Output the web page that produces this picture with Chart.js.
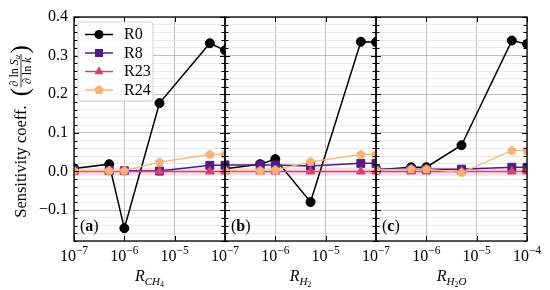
<!DOCTYPE html>
<html>
<head>
<meta charset="utf-8">
<script src="https://cdn.jsdelivr.net/npm/chart.js@4"></script>
<style>
  html, body { margin: 0; padding: 0; background: #fff; }
  canvas { display: block; }
</style>
</head>
<body>
<canvas id="chart" width="550" height="290"></canvas>
<script>
// perturbation ratios used in every panel
var ratios = [1e-7, 5e-7, 1e-6, 5e-6, 5e-5, 1e-4];
var xTicks = [1e-7, 1e-6, 1e-5, 1e-4];
var yMin = -0.18, yMax = 0.4;

// (a) R_CH4
var r0CH4  = [0.008, 0.019, -0.147, 0.177, 0.332, 0.314];
var r8CH4  = [0.002, 0.002, 0.002, 0.001, 0.016, 0.016];
var r23CH4 = [0.0, 0.0, 0.0, 0.0, 0.0, 0.0];
var r24CH4 = [0.002, 0.002, 0.002, 0.024, 0.044, 0.044];

// (b) R_H2
var r0H2  = [0.007, 0.019, 0.032, -0.079, 0.336, 0.335];
var r8H2  = [0.017, 0.017, 0.017, 0.014, 0.021, 0.021];
var r23H2 = [0.0, 0.0, 0.0, 0.0, 0.0, 0.0];
var r24H2 = [0.002, 0.002, 0.004, 0.025, 0.044, 0.044];

// (c) R_H2O
var r0H2O  = [0.004, 0.011, 0.011, 0.068, 0.339, 0.330];
var r8H2O  = [0.006, 0.006, 0.006, 0.006, 0.011, 0.011];
var r23H2O = [0.0, 0.0, 0.0, 0.0, 0.0, 0.0];
var r24H2O = [0.004, 0.006, 0.006, -0.003, 0.054, 0.054];

var seriesNames = ['R0', 'R8', 'R23', 'R24'];
var panelIds = ['xa', 'xb', 'xc'];
var panelTags = ['a', 'b', 'c'];
var panelSeries = [
  [r0CH4, r8CH4, r23CH4, r24CH4],
  [r0H2, r8H2, r23H2, r24H2],
  [r0H2O, r8H2O, r23H2O, r24H2O]
];

var SERIF = "'Liberation Serif', 'DejaVu Serif', serif";
var colors = ['#000000', '#521a86', '#d6436c', '#f4ba84'];
var markColors = ['#000000', '#521a86', '#d6436c', '#f7b07a'];
var markers = ['circle', 'rect', 'triangle', 'pentagon'];

function pentagon(color, r) {
  var cv = document.createElement('canvas');
  var s = Math.ceil(r * 2 + 2);
  cv.width = s; cv.height = s;
  var g = cv.getContext('2d');
  g.fillStyle = color;
  g.beginPath();
  for (var k = 0; k < 5; k++) {
    var a = -Math.PI / 2 + k * 2 * Math.PI / 5;
    g.lineTo(s / 2 + r * Math.cos(a), s / 2 + r * Math.sin(a));
  }
  g.closePath();
  g.fill();
  return cv;
}
var pentImg = pentagon(markColors[3], 5);

function isMajorY(v) {
  return Math.abs(v * 10 - Math.round(v * 10)) < 1e-6;
}
function fmtY(v) {
  var s = Math.abs(v).toFixed(1);
  return v < -1e-9 ? '\u2212' + s : s;
}

// datasets: one per series per panel
var datasets = [];
panelSeries.forEach(function(list, p) {
  // pale band under R23
  datasets.push({
    data: ratios.map(function(x, i) { return {x: x, y: list[2][i]}; }),
    xAxisID: panelIds[p],
    borderColor: 'rgba(232, 80, 145, 0.2)',
    borderWidth: 8,
    pointRadius: 0,
    clip: 0,
    order: 10
  });
  list.forEach(function(vals, s) {
    var style = s === 3 ? pentImg : markers[s];
    datasets.push({
      label: seriesNames[s],
      data: ratios.map(function(x, i) { return {x: x, y: vals[i]}; }),
      xAxisID: panelIds[p],
      borderColor: colors[s],
      backgroundColor: markColors[s],
      borderWidth: s === 3 ? 1.3 : 1.5,
      pointStyle: style,
      pointRadius: [4.5, 5.6, 5, 5][s],
      pointBackgroundColor: markColors[s],
      pointBorderColor: markColors[s],
      pointBorderWidth: 1,
      tension: 0,
      clip: 0,
      order: 4 - s
    });
  });
});

function xScale() {
  return {
    type: 'logarithmic',
    position: 'bottom',
    stack: 'panels',
    stackWeight: 1,
    min: 1e-7,
    max: 1e-4,
    afterBuildTicks: function(s) {
      s.ticks = xTicks.map(function(v) { return {value: v}; });
    },
    afterFit: function(s) { s.height = 49; },
    ticks: {display: false},
    grid: {color: '#b0b0b0', lineWidth: 0.8, drawTicks: false},
    border: {display: false}
  };
}

function drawMarker(c, kind, x, y, color) {
  c.fillStyle = color;
  c.beginPath();
  if (kind === 'circle') {
    c.arc(x, y, 4.5, 0, Math.PI * 2);
  } else if (kind === 'rect') {
    c.rect(x - 4, y - 4, 8, 8);
  } else if (kind === 'triangle') {
    c.moveTo(x, y - 5.2);
    c.lineTo(x + 4.6, y + 2.8);
    c.lineTo(x - 4.6, y + 2.8);
  } else {
    for (var k = 0; k < 5; k++) {
      var a = -Math.PI / 2 + k * 2 * Math.PI / 5;
      c.lineTo(x + 5 * Math.cos(a), y + 5 * Math.sin(a));
    }
  }
  c.closePath();
  c.fill();
}

// draw a run of text pieces, returns total width
function runs(c, parts, x, y, draw) {
  var w = 0;
  parts.forEach(function(pt) {
    c.font = pt.f;
    if (draw) c.fillText(pt.t, x + w, y + (pt.dy || 0));
    w += c.measureText(pt.t).width;
  });
  return w;
}

var decor = {
  id: 'decor',
  afterDraw: function(chart) {
    var c = chart.ctx;
    var ys = chart.scales.y;
    var xs = panelIds.map(function(id) { return chart.scales[id]; });
    var top = chart.chartArea.top, bottom = chart.chartArea.bottom;
    c.save();

    // inward y ticks on every panel edge
    var edges = [xs[0].left, xs[1].left, xs[2].left, xs[2].right];
    c.strokeStyle = '#000';
    c.lineWidth = 1;
    ys.ticks.forEach(function(t) {
      var py = Math.round(ys.getPixelForValue(t.value)) + 0.5;
      var len = isMajorY(t.value) ? 5 : 3.5;
      edges.forEach(function(ex, k) {
        c.beginPath();
        if (k > 0) { c.moveTo(ex - len, py); c.lineTo(ex, py); }
        if (k < 3) { c.moveTo(ex, py); c.lineTo(ex + len, py); }
        c.stroke();
      });
    });

    // inward x ticks top and bottom
    xs.forEach(function(sc) {
      xTicks.forEach(function(v) {
        var px = Math.round(sc.getPixelForValue(v)) + 0.5;
        c.beginPath();
        c.moveTo(px, bottom); c.lineTo(px, bottom - 5);
        c.moveTo(px, top); c.lineTo(px, top + 5);
        c.stroke();
      });
    });

    // panel frames
    c.lineWidth = 1.3;
    xs.forEach(function(sc) {
      c.strokeRect(sc.left, top, sc.right - sc.left, bottom - top);
    });

    // x tick labels 10^n
    c.fillStyle = '#000';
    c.textBaseline = 'alphabetic';
    xs.forEach(function(sc, p) {
      xTicks.forEach(function(v, i) {
        if (p < 2 && i === xTicks.length - 1) return;
        var e = Math.round(Math.log10(v));
        var parts = [
          {t: '10', f: '16px ' + SERIF},
          {t: '\u2212' + Math.abs(e), f: '11.5px ' + SERIF, dy: -7}
        ];
        var w = runs(c, parts, 0, 0, false);
        runs(c, parts, sc.getPixelForValue(v) - w / 2, 261, true);
      });
    });

    // x axis titles
    var subs = [
      [{t: 'R', f: 'italic 16px ' + SERIF}, {t: 'CH', f: 'italic 11px ' + SERIF, dy: 3.5}, {t: '4', f: '8px ' + SERIF, dy: 6}],
      [{t: 'R', f: 'italic 16px ' + SERIF}, {t: 'H', f: 'italic 11px ' + SERIF, dy: 3.5}, {t: '2', f: '8px ' + SERIF, dy: 6}],
      [{t: 'R', f: 'italic 16px ' + SERIF}, {t: 'H', f: 'italic 11px ' + SERIF, dy: 3.5}, {t: '2', f: '8px ' + SERIF, dy: 6}, {t: 'O', f: 'italic 11px ' + SERIF, dy: 3.5}]
    ];
    xs.forEach(function(sc, p) {
      var w = runs(c, subs[p], 0, 0, false);
      runs(c, subs[p], (sc.left + sc.right) / 2 - w / 2, 281, true);
    });

    // panel tags (a) (b) (c)
    xs.forEach(function(sc, p) {
      runs(c, [
        {t: '(', f: '16px ' + SERIF},
        {t: panelTags[p], f: 'bold 16px ' + SERIF},
        {t: ')', f: '16px ' + SERIF}
      ], sc.left + 6, 231, true);
    });

    // y axis title with the fraction
    c.save();
    c.translate(20, 131.5);
    c.rotate(-Math.PI / 2);
    var main = [{t: 'Sensitivity coeff.', f: '16.5px ' + SERIF}];
    var num = [{t: '\u2202 ln ', f: '12px ' + SERIF}, {t: 'S', f: 'italic 12px ' + SERIF}, {t: 'u', f: 'italic 8.5px ' + SERIF, dy: 2}];
    var den = [{t: '\u2202 ln ', f: '12px ' + SERIF}, {t: 'k', f: 'italic 12px ' + SERIF}];
    var wm = runs(c, main, 0, 0, false);
    var wn = runs(c, num, 0, 0, false);
    var wd = runs(c, den, 0, 0, false);
    c.font = '25px ' + SERIF;
    var wp = c.measureText('(').width;
    var wf = Math.max(wn, wd) + 3;
    var gap = 9;
    var total = wm + gap + wp + wf + wp;
    var fx = -total / 2;
    runs(c, main, fx, 6, true);
    fx += wm + gap;
    c.font = '25px ' + SERIF;
    c.fillText('(', fx, 8);
    fx += wp;
    runs(c, num, fx + (wf - wn) / 2, -2.5, true);
    runs(c, den, fx + (wf - wd) / 2, 11, true);
    c.lineWidth = 0.8;
    c.beginPath();
    c.moveTo(fx + 0.5, 1); c.lineTo(fx + wf - 0.5, 1);
    c.stroke();
    fx += wf;
    c.font = '25px ' + SERIF;
    c.fillText(')', fx, 8);
    c.restore();

    // legend
    var bx = 78, by = 22, bw = 75, bh = 79, r = 3;
    c.beginPath();
    c.moveTo(bx + r, by);
    c.arcTo(bx + bw, by, bx + bw, by + bh, r);
    c.arcTo(bx + bw, by + bh, bx, by + bh, r);
    c.arcTo(bx, by + bh, bx, by, r);
    c.arcTo(bx, by, bx + bw, by, r);
    c.closePath();
    c.fillStyle = 'rgba(255,255,255,0.85)';
    c.fill();
    c.strokeStyle = '#d2d2d2';
    c.lineWidth = 1;
    c.stroke();
    seriesNames.forEach(function(name, s) {
      var ly = 34.5 + s * 18.5;
      c.strokeStyle = s === 3 ? markColors[s] : colors[s];
      c.lineWidth = 1.5;
      c.beginPath();
      c.moveTo(85, ly); c.lineTo(113, ly);
      c.stroke();
      drawMarker(c, markers[s], 99, ly, markColors[s]);
      c.fillStyle = '#000';
      c.font = '16px ' + SERIF;
      c.textBaseline = 'middle';
      c.fillText(name, 124, ly + 0.5);
      c.textBaseline = 'alphabetic';
    });

    c.restore();
  }
};

var ctx = document.getElementById('chart').getContext('2d');
var chart = new Chart(ctx, {
  type: 'line',
  data: { datasets: datasets },
  options: {
    responsive: false,
    animation: false,
    layout: { padding: { left: 0, right: 23, top: 17, bottom: 0 } },
    plugins: {
      legend: { display: false },
      tooltip: { enabled: false }
    },
    scales: {
      xa: xScale(),
      xb: xScale(),
      xc: xScale(),
      y: {
        position: 'left',
        min: yMin,
        max: yMax,
        afterFit: function(s) { s.width = 74; },
        ticks: {
          stepSize: 0.02,
          autoSkip: false,
          padding: 6,
          color: '#000',
          font: { family: SERIF, size: 16 },
          callback: function(v) { return isMajorY(v) ? fmtY(v) : ''; }
        },
        grid: {
          drawTicks: false,
          lineWidth: 0.8,
          color: function(c) { return isMajorY(c.tick.value) ? '#b0b0b0' : '#e4e4e4'; }
        },
        border: { display: false }
      }
    }
  },
  plugins: [decor]
});
</script>
</body>
</html>
